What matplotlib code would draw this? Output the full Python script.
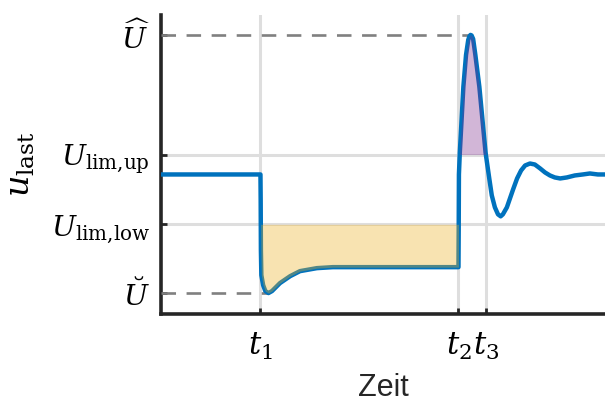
import numpy as np
import matplotlib
matplotlib.use("Agg")
import matplotlib.pyplot as plt

plt.rcParams['mathtext.fontset'] = 'dejavuserif'
plt.rcParams['font.family'] = ['Liberation Sans', 'DejaVu Sans']

# Characteristic voltage levels
u_hat = 2.80
u_lim_up = 1.60
u_lim_low = 0.90
u_check = 0.21

# Event times
t1, t2, t3 = 2.24, 6.70, 7.33

y_ticks = [u_check, u_lim_low, u_lim_up, u_hat]
y_labels = [r'$\breve{U}$', r'$U_{\mathrm{lim{,}low}}$', r'$U_{\mathrm{lim{,}up}}$', r'$\widehat{U}$']
x_ticks = [t1, t2, t3]
x_labels = [r'$t_1$', r'$t_2$', r'$t_3$']

# Load voltage trace
t = np.array([
    0.00, 2.24, 2.245, 2.25, 2.26, 2.30, 2.35, 2.42, 2.50, 2.59, 2.68, 2.91,
    3.13, 3.51, 3.87, 4.71, 6.70, 6.705, 6.71, 6.73, 6.77, 6.81, 6.87, 6.92,
    6.945, 6.97, 6.995, 7.03, 7.08, 7.17, 7.24, 7.31, 7.39, 7.45, 7.52, 7.59,
    7.65, 7.70, 7.79, 7.86, 7.93, 8.02, 8.11, 8.20, 8.31, 8.42, 8.54, 8.65,
    8.76, 8.87, 8.99, 9.14, 9.32, 9.50, 9.66, 9.84, 10.00,
])
u = np.array([
    1.40, 1.40, 1.14, 0.64, 0.39, 0.29, 0.23, 0.21, 0.23, 0.27, 0.31, 0.38,
    0.43, 0.46, 0.47, 0.47, 0.47, 0.84, 1.40, 1.62, 1.95, 2.28, 2.60, 2.75,
    2.785, 2.80, 2.795, 2.76, 2.60, 2.28, 1.95, 1.62, 1.37, 1.19, 1.07, 1.00,
    0.98, 1.00, 1.07, 1.16, 1.25, 1.36, 1.44, 1.49, 1.51, 1.50, 1.46, 1.42,
    1.39, 1.37, 1.36, 1.37, 1.39, 1.40, 1.41, 1.40, 1.40,
])

fig = plt.figure(figsize=(6.05, 4.05), dpi=100)
ax = fig.add_axes([161 / 605, 91 / 405, 444 / 605, 299 / 405])

grid_kw = dict(color='#dedede', lw=2.2, zorder=1)
for tv in x_ticks:
    ax.axvline(tv, **grid_kw)
for uv in (u_lim_low, u_lim_up):
    ax.axhline(uv, **grid_kw)

# Peak and dip markers
dash_kw = dict(color='#808080', lw=1.9, ls=(0, (5.5, 4)), zorder=3, solid_capstyle='butt')
ax.plot([0, t[np.argmax(u)]], [u_hat, u_hat], **dash_kw)
ax.plot([0, t[np.argmin(u)]], [u_check, u_check], **dash_kw)

ax.plot(t, u, color='#0072BD', lw=3.2, zorder=3, solid_joinstyle='round',
        solid_capstyle='butt')

# Undervoltage area below the lower limit
low_mask = (t >= t1) & (t <= t2)
ax.fill_between(t, np.minimum(u, u_lim_low), u_lim_low, where=low_mask,
                color='#EDB120', alpha=0.35, lw=0, zorder=4)
# Overvoltage area above the upper limit
ax.fill_between(t, u, u_lim_up, where=u >= u_lim_up, interpolate=True,
                color='#7E2F8E', alpha=0.35, lw=0, zorder=4)

ax.set_xlim(0, 10)
ax.set_ylim(0, 3)
ax.set_xticks(x_ticks)
ax.set_xticklabels(x_labels, fontsize=22)
ax.set_yticks(y_ticks)
ax.set_yticklabels(y_labels, fontsize=20.5)
ax.tick_params(direction='in', length=4, width=2, color='#262626')
ax.tick_params(axis='x', pad=12)
ax.tick_params(axis='y', pad=8)

for side in ('top', 'right'):
    ax.spines[side].set_visible(False)
for side in ('left', 'bottom'):
    ax.spines[side].set_linewidth(2.6)
    ax.spines[side].set_color('#262626')
    ax.spines[side].set_capstyle('projecting')

ax.set_xlabel('Zeit', fontsize=22, color='#262626', labelpad=8)
ax.set_ylabel(r'$u_{\mathrm{last}}$', fontsize=24, labelpad=10)

fig.savefig('out.png', dpi=100)
